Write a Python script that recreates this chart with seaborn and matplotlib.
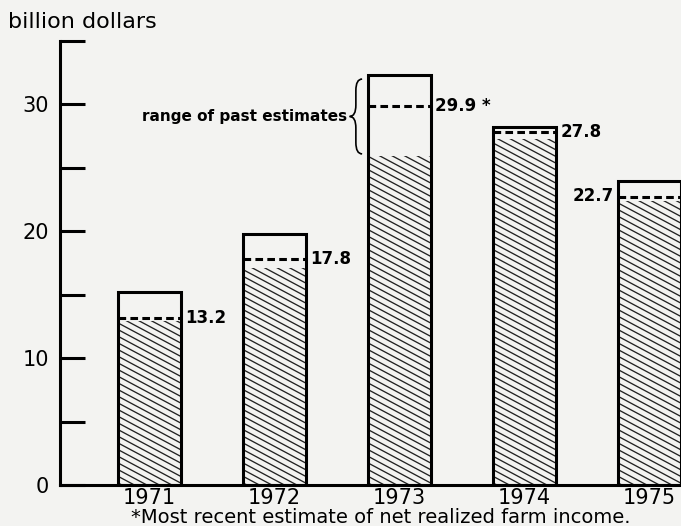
import matplotlib
matplotlib.use("Agg")
import numpy as np
import matplotlib.pyplot as plt
import matplotlib.hatch as mhatch
from matplotlib.path import Path
from matplotlib.patches import PathPatch
import seaborn as sns
import pandas as pd

# ---- data ----
years = ["1971", "1972", "1973", "1974", "1975"]
range_high = [15.2, 19.8, 32.3, 28.2, 24.0]   # top of range of past estimates
range_low = [12.9, 17.1, 25.9, 27.3, 22.4]    # bottom of range of past estimates
latest = [13.2, 17.8, 29.9, 27.8, 22.7]       # most recent estimate
latest_labels = ["13.2", "17.8", "29.9 *", "27.8", "22.7"]
yticks_major = [0, 10, 20, 30]
yticks_minor = [5, 15, 25, 35]


# shallower "\" hatch (slope 8/15) to resemble the printed shading
class ShallowSouthEastHatch(mhatch.HatchPatternBase):
    def __init__(self, hatch, density):
        self.on = hatch.count("\\") > 0
        self.n = 15
        self.ks = list(range(-1, 25))
        self.num_vertices = 2 * len(self.ks) if self.on else 0

    def set_vertices_and_codes(self, vertices, codes):
        s = 8.0 / 15.0
        for i, k in enumerate(self.ks):
            c = k / self.n
            vertices[2 * i] = (-0.05, c + 0.05 * s)
            vertices[2 * i + 1] = (1.05, c - 1.05 * s)
            codes[2 * i] = Path.MOVETO
            codes[2 * i + 1] = Path.LINETO


mhatch._hatch_types = [ShallowSouthEastHatch if t is mhatch.SouthEastHatch else t
                       for t in mhatch._hatch_types]

paper = "#f3f3f1"
sns.set_theme(style="white")
plt.rcParams["font.family"] = ["DejaVu Sans"]
plt.rcParams["hatch.linewidth"] = 0.95

df = pd.DataFrame({"year": years, "high": range_high, "low": range_low, "latest": latest})

fig = plt.figure(figsize=(6.81, 5.26), dpi=100, facecolor=paper)
ax = fig.add_axes([60 / 681, 41 / 526, (681 - 60) / 681, (485 - 41) / 526])
ax.set_facecolor(paper)

# hatched lower part
sns.barplot(data=df, x="year", y="low", ax=ax, width=0.5, color="black")
n_low = len(ax.patches)
for p in ax.patches[:n_low]:
    p.set_facecolor("none")
    p.set_edgecolor("#222222")
    p.set_linewidth(0)
    p.set_hatch("\\")

# outline bars up to top of range
sns.barplot(data=df, x="year", y="high", ax=ax, width=0.5, color="black")
outline = ax.patches[n_low:]
for p in outline:
    p.set_facecolor("none")
    p.set_edgecolor("black")
    p.set_linewidth(2.2)

# dashed lines = latest estimate
for i, p in enumerate(outline):
    x0, x1 = p.get_x(), p.get_x() + p.get_width()
    ax.hlines(latest[i], x0, x1, colors="black", linewidth=2.2,
              linestyles=(0, (2.5, 1.4)), zorder=5)
    if i == 4:
        ax.text(x0 - 0.04, latest[i] + 0.1, latest_labels[i], ha="right", va="center",
                fontsize=12, fontweight="bold", color="black")
    else:
        ax.text(x1 + 0.035, latest[i], latest_labels[i], ha="left", va="center",
                fontsize=12, fontweight="bold", color="black")

# brace for "range of past estimates"
bx = outline[2].get_x()
xr, xt = bx - 0.05, bx - 0.15
xm = (xr + xt) / 2
yt, yb = range_high[2] - 0.3, range_low[2] + 0.2
ym = (yt + yb) / 2
r = 0.9
verts = [(xr, yt), (xm, yt), (xm, yt - r), (xm, ym + r), (xm, ym), (xt, ym),
         (xm, ym), (xm, ym - r), (xm, yb + r), (xm, yb), (xr, yb)]
codes = [Path.MOVETO, Path.CURVE3, Path.CURVE3, Path.LINETO, Path.CURVE3, Path.CURVE3,
         Path.CURVE3, Path.CURVE3, Path.LINETO, Path.CURVE3, Path.CURVE3]
ax.add_patch(PathPatch(Path(verts, codes), facecolor="none", edgecolor="black", lw=1.2))
ax.text(xt - 0.02, ym, "range of past estimates", ha="right", va="center",
        fontsize=11, fontweight="bold", color="black")

# axes styling
ax.set_xlim(-0.716, 4.25)
ax.set_ylim(0, 35)
for s in ["top", "right"]:
    ax.spines[s].set_visible(False)
for s in ["left", "bottom"]:
    ax.spines[s].set_linewidth(2.2)
    ax.spines[s].set_color("black")
ax.set_yticks(yticks_major)
ax.set_yticklabels([str(v) for v in yticks_major])
ax.set_yticks(yticks_minor, minor=True)
ax.tick_params(axis="y", which="both", direction="in", length=18, width=2.2,
               color="black", left=True)
ax.tick_params(axis="y", which="major", pad=8, labelsize=15, labelcolor="black")
ax.tick_params(axis="x", length=0, pad=2, labelsize=15, labelcolor="black")
ax.set_xlabel("")
ax.set_ylabel("")

fig.text(8 / 681, 1 - 22 / 526, "billion dollars", ha="left", va="center", fontsize=16, color="black")
fig.text(381 / 681, 1 - 523 / 526, "*Most recent estimate of net realized farm income.",
         ha="center", va="baseline", fontsize=14, color="black")

fig.savefig("out.png", dpi=100, facecolor=paper)
